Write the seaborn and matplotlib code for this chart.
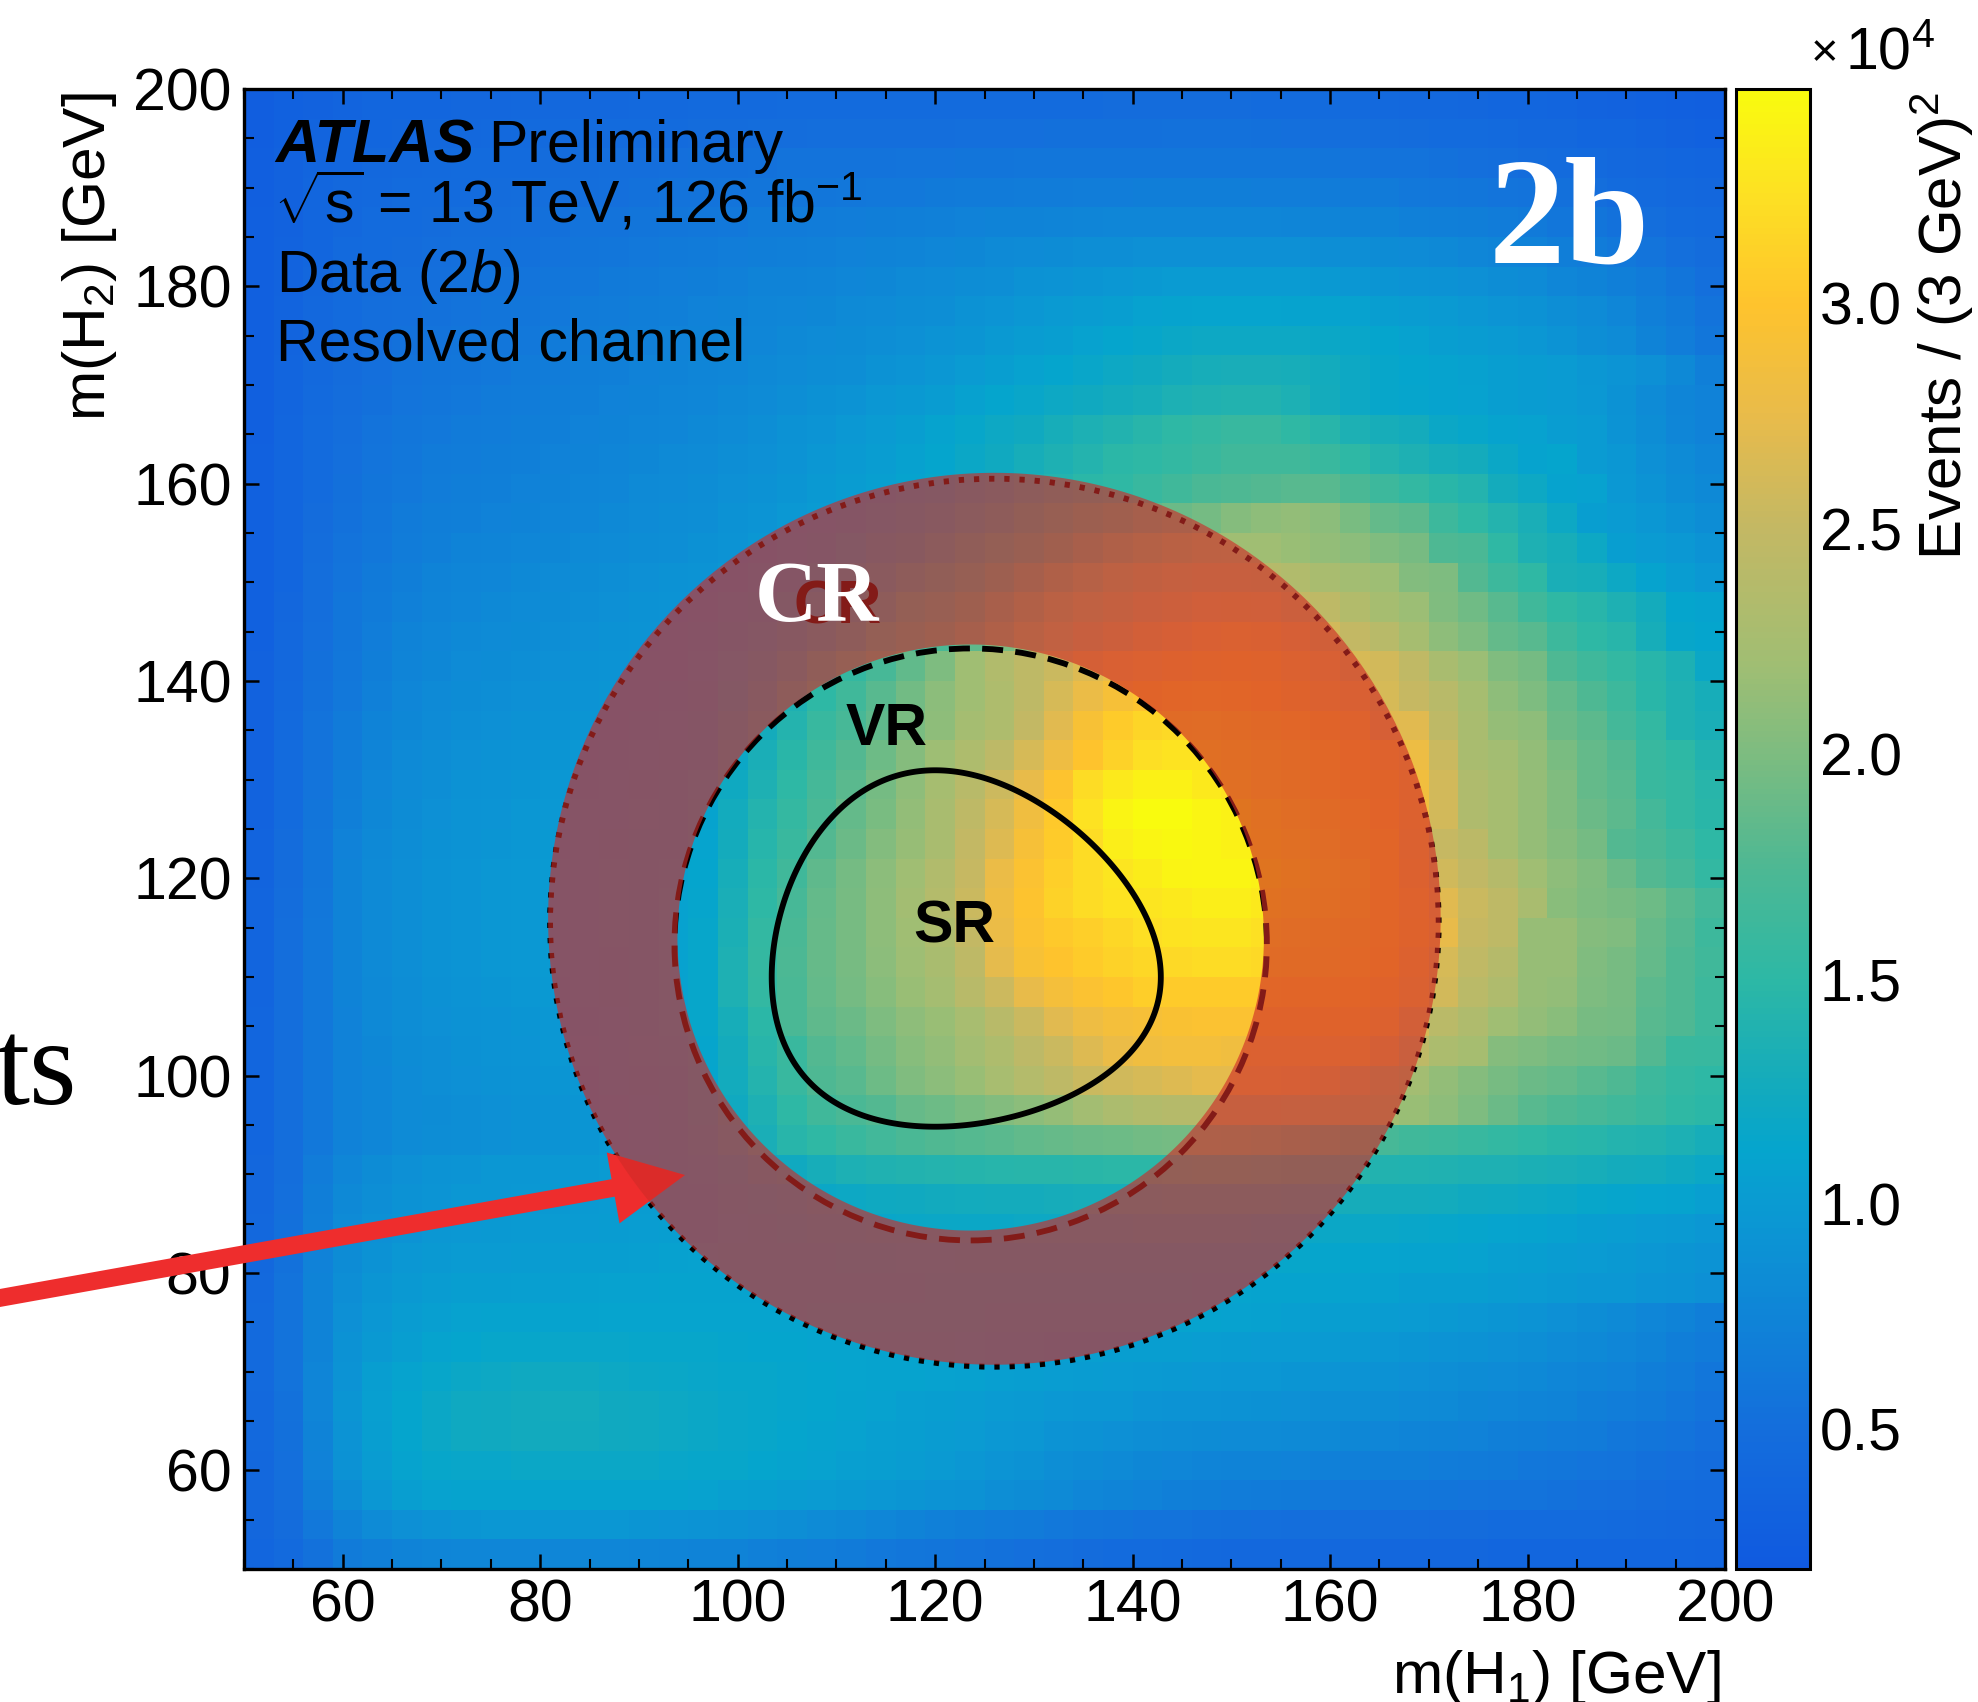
import matplotlib
matplotlib.use("Agg")
import matplotlib.pyplot as plt
import numpy as np
import seaborn as sns
from matplotlib.colors import LinearSegmentedColormap
from matplotlib.patches import Circle, FancyArrow, PathPatch
from matplotlib.path import Path
from matplotlib.ticker import MultipleLocator

sns.set_style("ticks")
plt.rcParams["font.family"] = ["Liberation Sans", "DejaVu Sans"]
plt.rcParams["text.color"] = "k"
plt.rcParams["axes.labelcolor"] = "k"
plt.rcParams["xtick.color"] = "k"
plt.rcParams["ytick.color"] = "k"
plt.rcParams["mathtext.fontset"] = "custom"
plt.rcParams["mathtext.rm"] = "Liberation Sans"
plt.rcParams["mathtext.it"] = "Liberation Sans:italic"
plt.rcParams["mathtext.bf"] = "Liberation Sans:bold"

# Bin edges of both masses, 3 GeV wide, and colour range (x 10^4)
m_edges = list(range(50, 201, 3))
z_min = 0.19
z_max = 3.476
cbar_ticks = [0.5, 1.0, 1.5, 2.0, 2.5, 3.0]

# Events per bin in units of 100, bottom row (m2 = 50-53) first
events = [
    [38,44,54,64,70,74,76,78,78,78, 78,78,77,76,75,74,73,71,69,67, 64,62,60,58,56,54,52,50,48,46, 45,44,43,42,42,41,41,41,40,40, 40,40,39,39,39,38,38,38,37,36],
    [40,48,62,74,82,88,92,94,95,96, 96,96,95,94,93,92,90,88,86,83, 80,77,74,71,68,66,64,62,60,58, 56,55,54,53,52,51,50,50,49,49, 48,48,47,47,46,45,44,43,42,40],
    [41,50,68,84,96,104,108,110,110,110, 110,110,110,110,110,108,106,104,102,100, 98,96,94,92,90,87,84,81,78,75, 72,70,68,66,64,63,62,61,60,59, 58,57,56,55,54,52,50,48,46,44],
    [42,52,72,90,102,110,114,116,116,118, 118,118,118,118,116,115,114,112,110,108, 106,104,102,99,96,93,90,87,84,81, 79,77,75,74,73,72,71,70,69,68, 66,65,63,61,59,57,55,53,51,48],
    [43,53,74,92,104,112,118,122,124,125, 125,125,124,122,120,118,116,114,112,110, 108,106,104,102,100,97,95,92,90,88, 86,85,84,83,82,81,80,79,77,75, 74,72,70,68,66,64,61,58,56,52],
    [43,54,76,94,106,112,118,122,124,125, 126,126,124,122,120,118,116,114,113,112, 110,108,106,105,103,101,99,97,96,95, 93,92,91,90,89,88,87,86,85,83, 81,79,77,75,73,70,67,64,61,56],
    [44,55,76,92,104,110,114,118,120,122, 122,122,120,118,117,116,115,114,113,112, 111,110,109,108,107,106,105,103,102,101, 99,98,97,96,95,94,93,92,90,88, 86,84,82,80,78,75,72,68,65,60],
    [44,55,74,90,98,104,110,112,114,114, 116,116,116,115,114,114,113,112,112,111, 111,110,110,109,108,107,107,106,106,105, 105,104,103,102,101,100,99,98,96,94, 92,90,88,86,83,80,77,73,69,64],
    [44,55,74,88,96,102,106,108,110,110, 110,110,111,111,111,111,111,111,111,112, 112,112,112,112,112,111,111,111,110,110, 110,110,109,108,107,106,105,104,102,100, 98,96,94,91,88,85,81,77,73,68],
    [43,55,73,86,94,98,102,104,105,106, 106,107,108,108,109,109,110,110,110,111, 111,111,111,112,112,112,112,112,112,112, 112,112,111,111,110,110,109,108,107,105, 105,104,102,100,98,96,95,93,91,88],
    [42,54,72,84,90,95,98,100,101,102, 103,104,105,106,107,108,109,110,110,111, 112,112,113,113,114,114,114,115,115,115, 115,115,115,115,114,114,113,112,111,110, 109,108,106,104,102,100,98,96,94,92],
    [41,53,70,82,88,92,95,97,98,99, 100,101,102,103,105,106,108,110,112,114, 115,116,117,118,119,119,120,120,120,120, 121,121,121,121,120,120,119,118,117,116, 115,113,111,109,107,105,103,101,99,96],
    [40,52,68,80,86,90,93,95,96,97, 98,99,100,102,104,106,109,112,115,118, 120,122,124,125,126,127,128,129,130,130, 130,131,131,131,131,130,130,129,128,127, 126,124,122,120,118,115,113,111,109,106],
    [40,51,66,78,84,88,91,93,95,96, 97,98,100,102,104,107,112,118,124,130, 135,138,140,142,143,144,145,146,147,148, 148,149,150,150,149,148,146,144,140,139, 138,137,136,134,132,130,128,126,122,118],
    [38,50,62,72,78,82,85,87,88,90, 92,94,97,100,104,110,120,132,145,152, 160,166,172,176,179,182,185,188,190,192, 194,195,195,194,192,188,182,176,170,165, 162,158,155,150,147,145,142,140,135,130],
    [38,50,62,72,78,82,84,86,88,90, 92,94,97,100,105,112,124,136,150,165, 172,178,188,192,198,203,208,214,222,230, 235,238,238,238,238,236,232,228,222,216, 210,200,190,180,175,170,165,160,152,148],
    [37,50,62,72,78,83,86,88,90,92, 94,96,99,102,106,112,126,142,158,175, 180,192,202,208,216,226,236,246,255,258, 262,268,272,272,272,270,262,250,235,222, 212,205,197,190,187,180,175,162,155,150],
    [37,50,62,72,79,84,87,89,91,93, 95,97,100,103,107,113,128,145,160,178, 185,196,206,212,222,232,244,255,268,278, 284,286,286,284,282,282,282,280,268,245, 230,225,205,200,195,193,190,178,160,158],
    [37,50,62,72,80,85,88,90,92,94, 96,98,101,104,108,115,130,148,172,184, 190,200,210,216,226,240,255,270,282,288, 290,294,296,296,296,296,296,296,285,262, 242,233,220,212,207,197,195,180,175,162],
    [36,50,62,73,80,85,89,92,94,96, 98,100,102,104,108,115,136,155,172,186, 195,206,216,224,240,256,275,288,296,302, 308,306,306,306,306,304,304,302,296,280, 260,242,233,215,212,200,197,183,175,162],
    [36,50,62,74,81,86,90,93,95,97, 99,101,102,104,108,114,136,156,174,188, 197,208,218,228,246,272,292,300,306,312, 316,318,320,320,318,316,314,310,302,285, 262,247,238,215,215,202,197,187,175,165],
    [36,50,62,74,81,86,90,93,95,97, 99,101,103,105,108,114,134,154,172,188, 197,209,220,232,250,278,296,304,310,316, 322,326,328,328,324,320,316,312,305,292, 275,252,245,215,215,205,202,188,177,162],
    [36,49,61,74,81,86,90,93,95,97, 99,101,103,105,108,113,132,150,170,186, 197,210,222,236,254,282,298,312,320,326, 328,332,335,335,332,328,322,316,305,290, 270,255,245,228,207,200,197,192,180,167],
    [35,48,60,73,81,86,90,93,95,97, 99,101,103,105,107,112,130,148,165,184, 196,208,220,234,252,278,296,310,320,328, 334,340,342,342,338,332,324,318,305,285, 258,248,238,220,210,202,190,178,168,155],
    [35,48,60,72,80,85,89,92,94,96, 98,100,102,104,106,111,128,144,160,178, 190,203,215,228,250,268,290,306,320,335, 342,345,342,338,332,326,320,312,305,283, 252,243,225,214,205,195,178,172,162,150],
    [34,47,58,70,79,84,88,91,93,95, 97,99,101,103,105,110,126,142,156,172, 186,198,212,228,246,262,284,304,325,340, 347,347,342,338,330,322,316,308,300,285, 260,233,225,213,202,190,183,167,155,147],
    [34,46,57,68,77,83,87,90,92,94, 96,98,100,102,104,108,122,137,150,168, 182,196,210,225,240,256,275,298,320,332, 338,338,332,326,320,316,310,302,298,285, 260,233,225,213,202,187,180,160,155,146],
    [33,45,56,66,75,81,85,88,90,92, 94,96,98,100,102,106,119,132,147,164, 178,192,205,218,232,244,262,282,300,312, 322,326,326,322,318,314,308,300,290,280, 255,228,223,212,198,187,177,158,150,140],
    [33,44,55,64,73,79,83,86,88,90, 92,94,96,98,100,104,116,128,142,158, 170,184,198,210,224,232,250,270,292,306, 315,318,320,316,312,306,298,290,270,270, 245,228,213,210,190,183,167,155,138,132],
    [32,43,54,62,71,77,81,84,86,88, 90,92,94,96,98,102,112,122,136,150, 165,180,194,208,220,232,245,262,278,290, 298,304,306,304,300,292,284,276,262,252, 240,225,210,200,187,175,162,147,138,130],
    [32,42,53,61,69,75,79,82,84,86, 88,90,92,94,96,100,108,116,128,142, 156,170,185,200,220,234,245,255,268,276, 282,288,292,295,292,284,274,264,260,247, 228,217,202,195,175,163,155,145,135,118],
    [31,41,52,60,67,73,77,80,82,84, 86,88,90,92,94,98,104,110,118,128, 138,150,162,172,184,198,212,226,240,252, 262,270,276,280,278,270,260,250,240,225, 210,200,187,180,162,150,145,130,115,112],
    [31,40,51,59,65,71,75,78,80,82, 84,86,88,90,92,95,100,105,112,120, 128,138,150,160,172,186,200,214,225,235, 245,252,258,260,258,250,245,235,225,217, 202,193,180,165,152,145,137,128,112,110],
    [31,39,50,57,63,69,73,76,78,80, 82,84,86,88,90,92,96,100,106,112, 120,128,136,146,156,170,185,198,208,218, 228,236,240,240,238,234,228,222,218,203, 200,177,162,152,132,130,120,110,103,97],
    [30,38,49,55,61,66,70,73,75,77, 79,81,83,85,87,89,92,96,100,105, 112,118,124,132,142,150,162,176,188,198, 206,212,218,220,220,216,212,208,202,197, 175,172,152,137,130,120,105,100,97,92],
    [30,38,48,54,60,64,68,70,72,74, 76,78,80,83,85,87,90,93,97,100, 105,110,116,122,130,138,148,158,168,176, 184,190,195,205,210,212,208,198,187,183, 162,152,142,132,120,105,100,96,90,85],
    [30,38,47,53,58,62,66,68,70,72, 74,76,78,81,83,85,88,90,94,98, 102,106,110,115,122,128,135,142,148,152, 158,165,172,175,178,180,180,172,162,155, 147,142,128,120,110,108,97,92,85,80],
    [30,37,46,52,57,61,64,66,68,70, 72,74,76,79,81,83,86,88,92,95, 99,103,107,112,118,124,130,136,142,148, 150,155,160,165,165,165,160,150,142,137, 130,127,118,110,112,100,95,88,82,78],
    [29,37,45,51,55,59,62,64,66,68, 70,72,74,76,78,80,83,86,90,93, 97,101,105,110,115,120,124,130,135,140, 145,150,155,158,158,152,145,135,130,128, 118,115,110,108,103,100,92,85,78,72],
    [29,36,44,49,53,57,60,62,64,66, 68,70,72,74,76,78,80,83,86,89, 92,95,98,102,107,112,116,120,124,127, 130,135,138,140,140,135,128,120,115,113, 110,108,105,102,100,97,90,83,76,72],
    [29,36,43,48,52,55,58,60,62,64, 66,68,70,72,74,76,78,80,82,85, 87,90,93,96,100,105,108,112,116,120, 124,128,130,131,131,130,126,120,114,112, 110,107,104,102,100,96,93,88,80,70],
    [29,35,42,47,51,54,56,58,60,62, 64,66,68,70,72,74,76,78,80,82, 84,86,88,91,94,98,102,105,108,112, 115,118,120,120,120,120,118,116,112,108, 105,102,99,95,91,86,82,74,67,60],
    [28,35,41,46,50,52,54,56,58,60, 62,64,66,68,70,72,74,76,77,79, 81,83,85,87,90,93,96,99,102,105, 108,110,111,111,111,110,110,108,105,102, 99,96,93,90,86,82,77,70,63,56],
    [28,34,40,45,48,50,52,54,56,57, 59,61,63,65,67,69,71,73,74,75, 77,79,81,83,85,87,90,92,94,96, 98,100,100,100,100,100,98,96,94,92, 90,88,85,82,78,74,70,64,58,52],
    [28,34,39,44,47,48,50,52,53,54, 56,58,60,62,63,65,67,68,70,71, 72,74,75,77,79,81,83,84,86,87, 88,88,88,88,88,88,87,86,84,82, 80,78,75,72,69,66,62,57,52,48],
    [28,33,38,42,45,47,48,50,51,52, 53,55,56,58,59,61,62,64,65,66, 67,68,70,71,72,73,74,75,76,77, 77,77,77,77,77,76,75,74,73,71, 70,68,66,63,60,58,54,50,47,44],
    [27,32,37,41,43,45,46,47,48,49, 50,51,52,54,55,56,57,58,59,60, 61,62,62,63,64,65,66,66,67,67, 68,68,68,68,67,67,66,65,64,62, 61,59,57,55,53,50,47,44,42,40],
    [27,32,36,39,41,43,44,45,46,47, 48,49,50,51,52,53,53,54,55,55, 56,56,57,57,58,58,59,59,60,60, 60,60,60,60,60,59,58,57,56,55, 54,52,50,48,46,44,42,40,38,36],
    [26,31,35,37,39,40,41,42,43,44, 44,45,46,46,47,48,48,49,49,50, 50,50,51,51,52,52,52,53,53,53, 53,54,54,54,53,52,51,50,49,48, 47,46,44,42,41,39,37,35,33,31],
    [26,30,33,35,37,38,39,40,40,41, 41,42,42,43,43,44,44,44,45,45, 45,46,46,46,47,47,47,47,47,48, 48,48,48,48,47,46,45,44,43,42, 41,40,39,37,36,34,33,31,29,27],
]

# Colour scale sampled from the colour bar
cmap_values = [0.19, 0.5, 1.0, 1.12, 1.25, 1.5, 1.75, 2.0, 2.2, 2.5, 2.75, 3.0, 3.25, 3.476]
cmap_colors = ["#105ae0", "#146edc", "#0a9bd2", "#05a5cd", "#12aabe", "#2db8a5", "#4eb893",
               "#7dbc80", "#a0be73", "#c3b864", "#e8bb4b", "#fec32d", "#fde123", "#f9fb0e"]
parula = LinearSegmentedColormap.from_list(
    "parula_cut", [((v - z_min) / (z_max - z_min), c) for v, c in zip(cmap_values, cmap_colors)])

# Regions in the mass plane (GeV)
sr_center = (120, 110)
sr_width = 0.1
sr_cut = 1.6
vr_center = (123.6, 113.3)
vr_radius = 30
cr_center = (126, 115.5)
cr_radius = 45
band_outer = (126, 115.9, 45.2)
band_inner = (123.6, 114.0, 29.7)

W, H = 1978, 1702
L, R, T, B = 244, 1725, 89, 1569


def to_fig(x, y):
    return x / W, 1 - y / H


fig = plt.figure(figsize=(W / 100, H / 100), dpi=100)
pos = [L / W, 1 - B / H, (R - L) / W, (B - T) / H]
ax_map = fig.add_axes(pos)
cax = fig.add_axes([1736 / W, 1 - B / H, 74 / W, (B - T) / H])

sns.heatmap(np.array(events) / 100, ax=ax_map, cbar_ax=cax, cmap=parula, vmin=z_min, vmax=z_max,
            xticklabels=False, yticklabels=False, linewidths=0)
ax_map.set_ylim(0, len(events))
ax_map.tick_params(length=0)

cb = ax_map.collections[0].colorbar
cb.set_ticks(cbar_ticks)
cb.ax.yaxis.set_major_formatter("{x:.1f}")
cb.ax.yaxis.set_minor_locator(MultipleLocator(0.1))
cb.ax.tick_params(axis="y", which="major", direction="in", length=10, width=1.8, labelsize=42.5, pad=7,
                  right=True, color="k")
cb.ax.tick_params(axis="y", which="minor", direction="in", length=5.5, width=1.5, right=True, color="k")
cb.outline.set_visible(True)
cb.outline.set_linewidth(2.2)
cb.outline.set_edgecolor("k")

# Overlay axes carries the GeV scale, the ticks and the regions
ax = fig.add_axes(pos, facecolor="none")
ax.set_xlim(m_edges[0], m_edges[-1])
ax.set_ylim(m_edges[0], m_edges[-1])
ax.xaxis.set_minor_locator(MultipleLocator(5))
ax.yaxis.set_minor_locator(MultipleLocator(5))
ax.set_xticks([60, 80, 100, 120, 140, 160, 180, 200])
ax.set_yticks([60, 80, 100, 120, 140, 160, 180, 200])
ax.tick_params(which="major", direction="in", top=True, right=True, bottom=True, left=True,
               length=10.8, width=1.8, labelsize=42.5, pad=9, color="k")
ax.tick_params(which="minor", direction="in", top=True, right=True, bottom=True, left=True,
               length=7, width=1.5, color="k")
ax.tick_params(axis="x", which="major", pad=7)
for s in ax.spines.values():
    s.set_linewidth(2.4)
    s.set_color("k")
    s.set_visible(True)

mx, my = np.meshgrid(np.linspace(95, 150, 400), np.linspace(90, 135, 400))
x_hh = np.sqrt(((mx - sr_center[0]) / (sr_width * mx)) ** 2 + ((my - sr_center[1]) / (sr_width * my)) ** 2)
ax.contour(mx, my, x_hh, levels=[sr_cut], colors="k", linewidths=4.2, zorder=3)

ax.add_patch(Circle(vr_center, vr_radius, fill=False, ec="k", lw=4.2, ls=(0, (3.6, 2.1)), capstyle="butt", zorder=3))
ax.add_patch(Circle(cr_center, cr_radius, fill=False, ec="k", lw=4.2, ls=(0, (0.9, 1.7)), capstyle="butt", zorder=3))

ax.text(105.7, 145.8, "CR", fontsize=44, fontweight="bold", color="k", va="baseline", zorder=3)
ax.text(110.9, 133.5, "VR", fontsize=42.5, fontweight="bold", color="k", va="baseline", zorder=3)
ax.text(117.8, 113.5, "SR", fontsize=42.5, fontweight="bold", color="k", va="baseline", zorder=3)

# Arrow runs in from outside the axes, under the band
ax.add_patch(FancyArrow(20, 76.52, 74.67, 13.41, width=1.8, head_width=7.3, head_length=7.4,
                        length_includes_head=True, color="#ee2d2d", lw=0, clip_on=False, zorder=4))

# Shaded band between the two displaced circles
t = np.linspace(0, 2 * np.pi, 361)
ring_x = np.r_[band_outer[0] + band_outer[2] * np.cos(t), band_inner[0] + band_inner[2] * np.cos(t[::-1])]
ring_y = np.r_[band_outer[1] + band_outer[2] * np.sin(t), band_inner[1] + band_inner[2] * np.sin(t[::-1])]
codes = np.full(len(ring_x), Path.LINETO)
codes[0] = Path.MOVETO
codes[361] = Path.MOVETO
ax.add_patch(PathPatch(Path(np.c_[ring_x, ring_y], codes), fc="#d02b27", ec="none", alpha=0.63, zorder=5))

ax.text(101.7, 146.1, "CR", fontsize=62, fontweight="bold", family="Liberation Serif", color="w",
        va="baseline", zorder=6)
ax.text(176.1, 182.4, "2b", fontsize=110, fontweight="bold", family="Liberation Serif", color="w",
        va="baseline", zorder=6)

# ATLAS label block
ax.text(53.2, 192.6, "ATLAS", fontsize=44, fontweight="bold", fontstyle="italic", va="baseline", zorder=6)
ax.text(74.7, 192.6, "Preliminary", fontsize=42.5, va="baseline", zorder=6)
ax.text(53.0, 186.5, r"$\sqrt{\mathrm{s}}$ = 13 TeV, 126 fb$^{-1}$", fontsize=42.5, va="baseline", zorder=6)
ax.text(53.2, 179.4, r"Data ($\mathit{2b}$)", fontsize=42.5, va="baseline", zorder=6)
ax.text(53.2, 172.5, "Resolved channel", fontsize=42.5, va="baseline", zorder=6)

# Axis titles
fig.text(*to_fig(1721, 1693), r"m(H$_{1}$) [GeV]", fontsize=43.5, ha="right", va="baseline")
fig.text(*to_fig(105, 92), r"m(H$_{2}$) [GeV]", fontsize=43.5, rotation=90, rotation_mode="anchor",
         ha="right", va="baseline")
fig.text(*to_fig(1962, 92), r"Events / (3 GeV)$^{2}$", fontsize=43.3, rotation=90, rotation_mode="anchor",
         ha="right", va="baseline")
fig.text(*to_fig(1811, 66), "\u00d7", fontsize=34, va="baseline")
fig.text(*to_fig(1845, 69), r"10$^{4}$", fontsize=42.5, va="baseline")

# Piece of a caption that runs off the left edge
fig.text(*to_fig(77, 1104), "ts", fontsize=88, family="Liberation Serif", ha="right", va="baseline")

fig.savefig("out.png", dpi=100)
